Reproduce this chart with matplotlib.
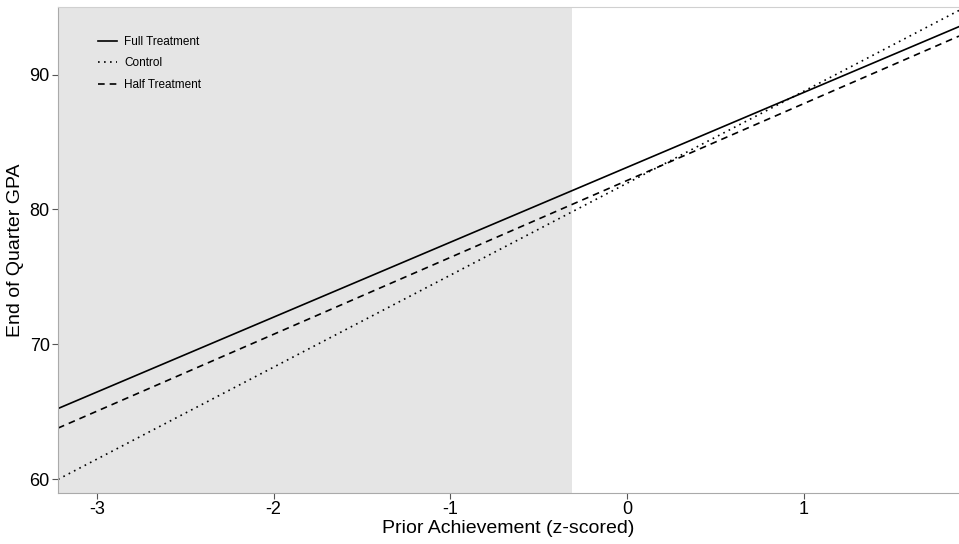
import matplotlib
matplotlib.use("Agg")
import matplotlib.pyplot as plt

plt.rcParams['font.family'] = ['Liberation Sans', 'DejaVu Sans']
plt.rcParams['axes.unicode_minus'] = False

# x range of the fitted lines and the shaded (low prior achievement) region
x_ends = [-3.22, 1.88]
shade_end = -0.31

# fitted GPA at each end of the x range
full_treatment = [65.25, 93.55]
control = [60.0, 94.75]
half_treatment = [63.8, 92.85]

series = [
    ("Full Treatment", full_treatment, "-"),
    ("Control", control, (0, (1, 2.6))),
    ("Half Treatment", half_treatment, (0, (4, 3))),
]

fig = plt.figure(figsize=(9.59, 5.44), dpi=100)
ax = fig.add_axes([0.0605, 0.094, 0.9395, 0.893])

ax.axvspan(x_ends[0], shade_end, color="#e5e5e5", lw=0, zorder=0)

for name, ys, style in series:
    ax.plot(x_ends, ys, ls=style, color="k", lw=1.2, label=name)

ax.set_xlim(x_ends)
ax.set_ylim(59.0, 95.0)
ax.set_xticks([-3, -2, -1, 0, 1])
ax.set_yticks([60, 70, 80, 90])

for side in ["left", "bottom", "right"]:
    ax.spines[side].set_color("#aaaaaa")
ax.spines["top"].set_color("#d0d0d0")
ax.spines["right"].set_visible(False)
ax.tick_params(direction="out", length=4, color="#555555", labelsize=13, pad=2)

ax.set_xlabel("Prior Achievement (z-scored)", fontsize=14, labelpad=1)
ax.set_ylabel("End of Quarter GPA", fontsize=14, labelpad=4)

ax.legend(loc="upper left", bbox_to_anchor=(0.033, 0.963), frameon=False,
          fontsize=8.5, handlelength=1.6, handletextpad=0.6, labelspacing=0.82)

fig.savefig("out.png", dpi=100)
